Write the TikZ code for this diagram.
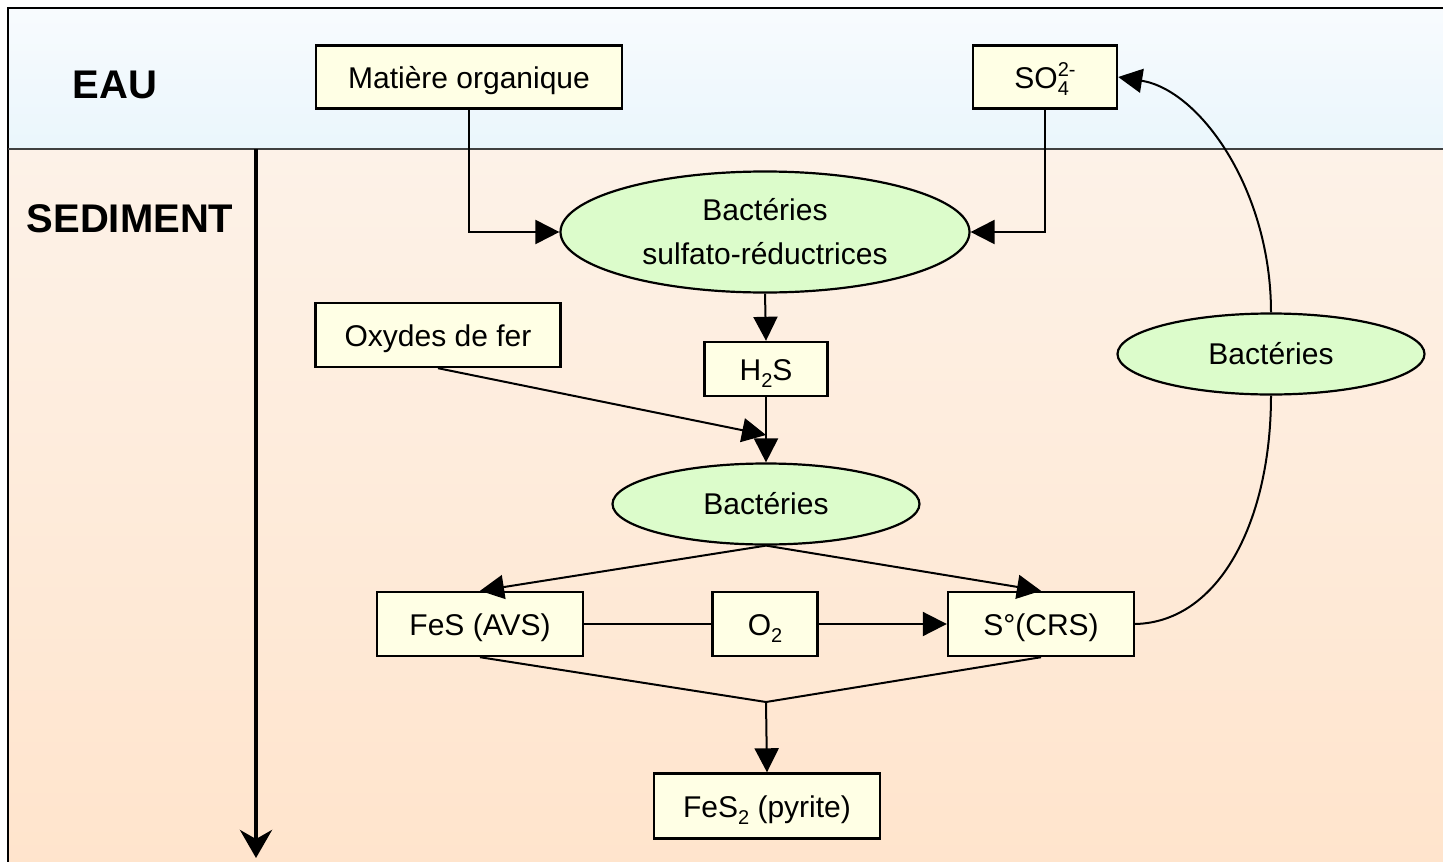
\documentclass[tikz,border=0pt]{standalone}
\usepackage{fontspec}
\setmainfont{Liberation Sans}
\usetikzlibrary{arrows.meta,shapes.geometric}
\definecolor{boxfill}{HTML}{FFFFE5}
\definecolor{ellfill}{HTML}{DCFCCB}
\definecolor{watertop}{HTML}{F8FBFE}
\definecolor{waterbot}{HTML}{EAF6FC}
\definecolor{sedtop}{HTML}{FDF2E8}
\definecolor{sedbot}{HTML}{FFE4CC}
\newcommand{\smallidx}[1]{{\fontsize{20}{20}\selectfont #1}}
\begin{document}
\begin{tikzpicture}[x=1pt,y=-1pt,
  box/.style={draw,line width=2.4pt,fill=boxfill,inner sep=0pt,minimum height=63pt,text height=22pt,text depth=0pt,font=\fontsize{30}{36}\selectfont},
  ell/.style={ellipse,draw,line width=2.2pt,fill=ellfill,inner sep=0pt,align=center,font=\fontsize{30}{44}\selectfont},
  conn/.style={line width=2pt},
  arr/.style={conn,-{Triangle[length=24pt,width=24pt]}},
  zone/.style={font=\fontsize{40}{48}\selectfont\bfseries}
]
\useasboundingbox (0,0) rectangle (1443,862);
% backgrounds
\shade[top color=watertop,bottom color=waterbot] (8,8) rectangle (1450,149);
\shade[top color=sedtop,bottom color=sedbot] (8,149) rectangle (1450,870);
\draw[line width=2pt] (8,870) -- (8,8) -- (1450,8);
\draw[line width=2pt,black!75] (8,149) -- (1450,149);
% zone labels
\node[zone] (eau) at (115,85) {EAU};
\node[zone] (sed) at (130,219) {SEDIMENT};
% depth axis
\coordinate (axtop) at (256,149);
\coordinate (axbot) at (256,858);
\draw[line width=4pt,-{Stealth[length=28pt,width=32pt,inset=9pt]}] (axtop) -- (axbot);
% nodes
\node[box,minimum width=306pt] (mo) at (469,77) {Matière organique};
\node[box,minimum width=144pt] (so4) at (1045,77) {SO\rlap{\raisebox{-7pt}{\smallidx{4}}}\raisebox{12pt}{\smallidx{2-}}};
\node[ell,minimum width=409pt,minimum height=121pt] (bsr) at (765,232) {Bactéries\\sulfato-réductrices};
\node[box,minimum width=245pt,minimum height=64pt] (ox) at (438,335) {Oxydes de fer};
\node[box,minimum width=123pt,minimum height=54pt] (h2s) at (766,369) {H\raisebox{-7pt}{\smallidx{2}}S};
\node[ell,minimum width=307pt,minimum height=81pt] (bac) at (766,504) {Bactéries};
\node[ell,minimum width=307pt,minimum height=81pt] (bacr) at (1271,354) {Bactéries};
\node[box,minimum width=206pt,minimum height=64pt] (fes) at (480,624) {FeS (AVS)};
\node[box,minimum width=105pt,minimum height=64pt] (o2) at (765,624) {O\raisebox{-7pt}{\smallidx{2}}};
\node[box,minimum width=186pt,minimum height=64pt] (scrs) at (1041,624) {S°(CRS)};
\node[box,minimum width=226pt,minimum height=65pt] (fes2) at (767,806) {FeS\raisebox{-7pt}{\smallidx{2}} (pyrite)};
\coordinate (j1) at (766,435);
\coordinate (j2) at (766,702);
% connectors
\draw[arr] (mo.south) |- (bsr.west);
\draw[arr] (so4.south) |- (bsr.east);
\draw[arr] (bsr.south) -- (h2s.north);
\draw[arr] (h2s.south) -- (bac.north);
\draw[arr] (ox.south) -- (j1);
\draw[arr] (bac.south) -- (fes.north);
\draw[arr] (bac.south) -- (scrs.north);
\draw[conn] (fes.east) -- (o2.west);
\draw[arr] (o2.east) -- (scrs.west);
\draw[conn] (fes.south) -- (j2) -- (scrs.south);
\draw[arr] (j2) -- (fes2.north);
\draw[conn] (scrs.east) .. controls (1220,622) and (1271,520) .. (bacr.south);
\draw[arr] (bacr.north) .. controls (1271,190) and (1200,90) .. (so4.east);
\end{tikzpicture}
\end{document}
